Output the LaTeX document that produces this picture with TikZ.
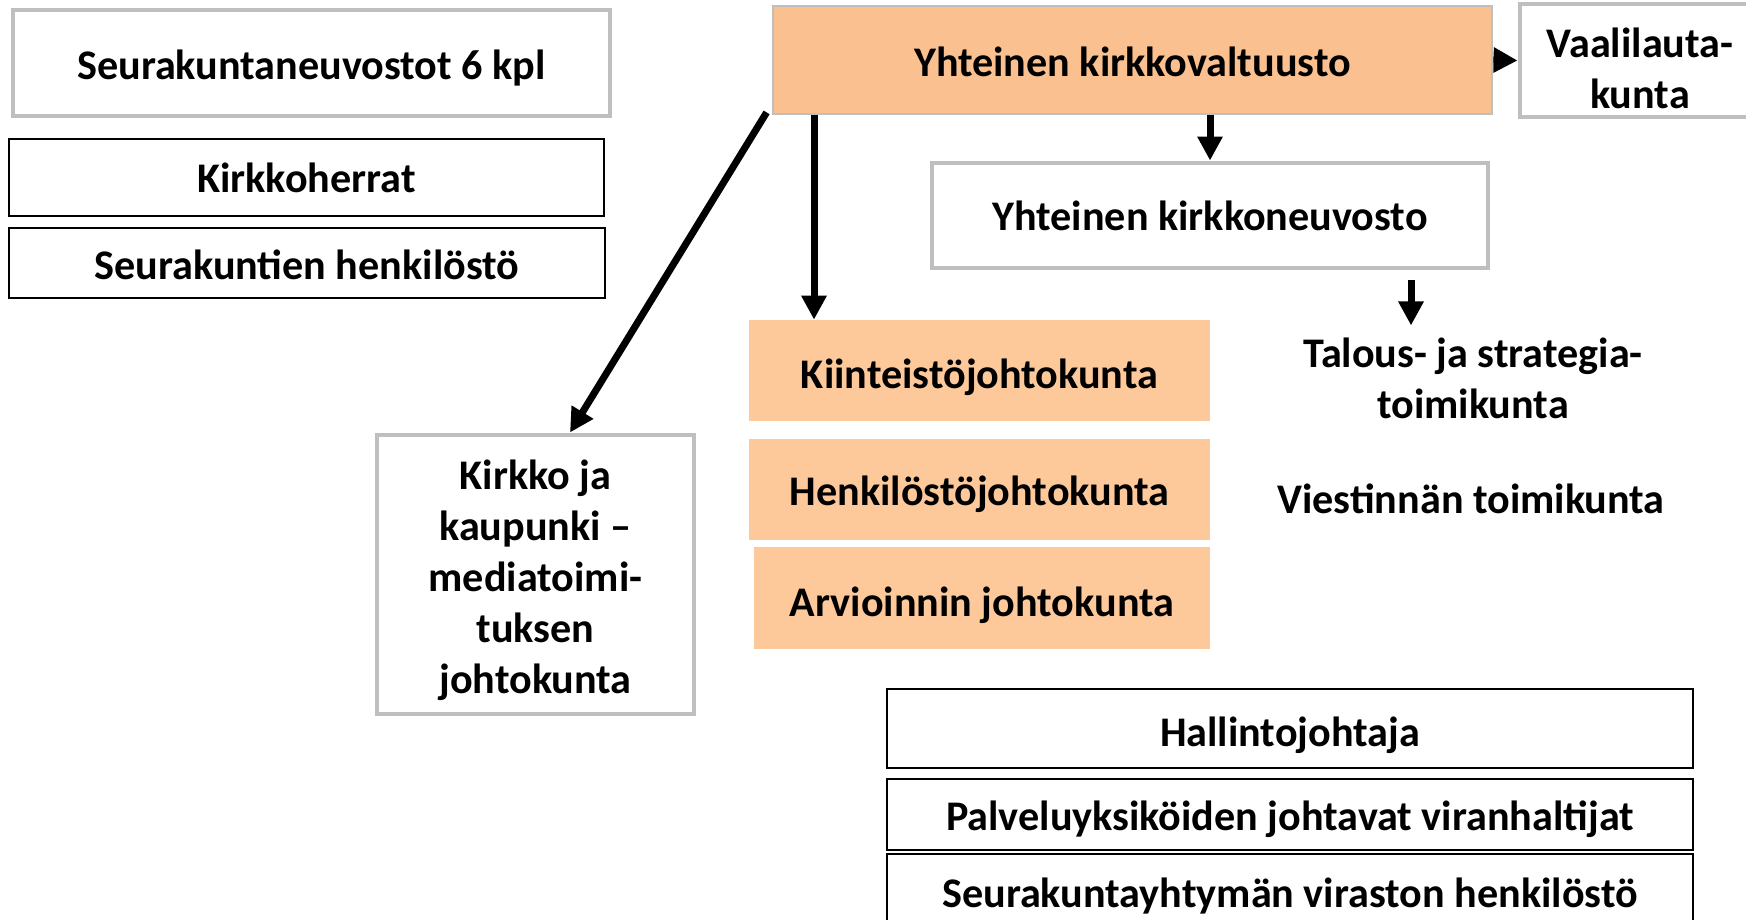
\documentclass[tikz,border=0pt]{standalone}
\usepackage{fontspec}
\setmainfont{Carlito}
\usetikzlibrary{arrows.meta}
\definecolor{valtuustoOrange}{HTML}{FAC08F}
\definecolor{johtoPeach}{HTML}{FDC99A}
\definecolor{rajaGray}{HTML}{BFBFBF}
\begin{document}
\begin{tikzpicture}[x=0.02cm,y=-0.02cm,
    every node/.style={font=\fontsize{24}{29}\selectfont\bfseries,align=center,inner sep=0pt},
    sz/.style 2 args={minimum width=#1*0.02cm,minimum height=#2*0.02cm},
    dn/.style={execute at begin node={\rule{0pt}{#1}}},
    graybox/.style={draw=rajaGray,line width=2.8pt,fill=white},
    blackbox/.style={draw=black,line width=1.4pt,fill=white},
    orangebox/.style={draw=rajaGray,line width=1.6pt,fill=valtuustoOrange},
    peachbox/.style={fill=johtoPeach},
    arr/.style={-{Triangle[length=0.48cm,width=0.48cm]},line width=4pt}]
    \useasboundingbox (0,0) rectangle (1746,919);

    % seurakunnat
    \node[graybox,sz={597}{106},dn=22pt] (neuvostot) at (311.5,63) {Seurakuntaneuvostot 6 kpl};
    \node[blackbox,sz={595}{77}] (kirkkoherrat) at (306.5,177.5) {Kirkkoherrat};
    \node[blackbox,sz={596}{70},dn=19pt] (srkhenk) at (307,263) {Seurakuntien henkilöstö};

    % yhtymä
    \node[orangebox,sz={719}{108},dn=19.5pt] (valtuusto) at (1132.5,60) {Yhteinen kirkkovaltuusto};
    \node[graybox,sz={240}{113}] (vaali) at (1640,60.5) {\rule{0pt}{26pt}Vaalilauta-\\kunta};
    \node[graybox,sz={556}{105}] (kneuvosto) at (1210,215.5) {Yhteinen kirkkoneuvosto};

    \node[peachbox,sz={461}{101},dn=24pt] (kiinteisto) at (979.5,370.5) {Kiinteistöjohtokunta};
    \node[peachbox,sz={461}{101},dn=22pt] (henkilosto) at (979.5,489.5) {Henkilöstöjohtokunta};
    \node[peachbox,sz={456}{102},dn=25.5pt] (arviointi) at (982,598) {Arvioinnin johtokunta};

    \node[graybox,sz={317}{279}] (media) at (535.5,574.5)
        {\rule{0pt}{23pt}Kirkko ja\\kaupunki --\\mediatoimi-\\tuksen\\johtokunta};

    \node (talous) at (1473,378.5) {Talous- ja strategia-\\toimikunta};
    \node (viestinta) at (1471,499) {Viestinnän toimikunta};

    % virasto
    \node[blackbox,sz={806}{79},dn=24pt] (hallinto) at (1290,728.5) {Hallintojohtaja};
    \node[blackbox,sz={806}{71},dn=22pt] (palvelu) at (1290,814.5) {Palveluyksiköiden johtavat viranhaltijat};
    \node[blackbox,sz={806}{76},dn=21pt] (virasto) at (1290,892) {Seurakuntayhtymän viraston henkilöstö};

    \coordinate (kx) at (814,0);
    \coordinate (mx) at (570,0);
    \coordinate (tx) at (1411,0);

    \draw[arr] (valtuusto.east) -- (vaali.west);
    \draw[arr] (kneuvosto.north |- valtuusto.south) -- (kneuvosto.north);
    \draw[arr] (valtuusto.south -| kx) -- (kiinteisto.north -| kx);
    \draw[arr] ([xshift=-0.1cm,yshift=0.06cm]valtuusto.south west) -- (media.north -| mx);
    \draw[arr] ([yshift=-0.2cm]kneuvosto.south -| tx) -- ++(0,45);
\end{tikzpicture}
\end{document}
